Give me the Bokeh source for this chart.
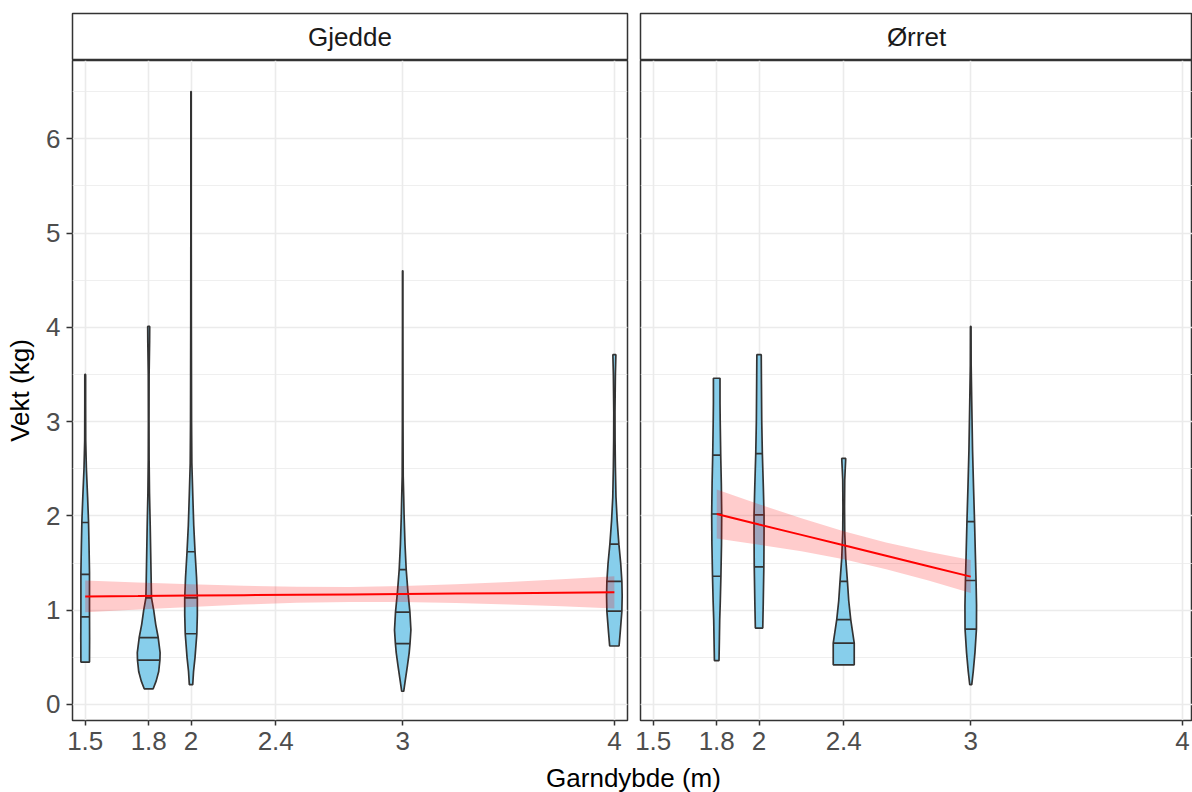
import numpy as np
from bokeh.plotting import figure
from bokeh.layouts import column, row
from bokeh.models import Range1d, FixedTicker, SingleIntervalTicker, CustomJSTickFormatter
from bokeh.core.properties import value
from bokeh.embed import file_html
from bokeh.resources import INLINE

# ---------------- data ----------------
species = ["Gjedde", "Ørret"]

x_ticks = [1.5, 1.8, 2.0, 2.4, 3.0, 4.0]
x_tick_labels = ["1.5", "1.8", "2", "2.4", "3", "4"]

# Gjedde violins: depth, weight grid (kg), density (relative width)
gj_depths = [1.5, 1.8, 2.0, 3.0, 4.0]
gj15_w = [0.45, 0.7, 1.0, 1.4, 1.7, 1.95, 2.2, 2.5, 2.8, 3.2, 3.5]
gj15_d = [4.3, 4.4, 4.3, 4.3, 3.8, 3.3, 2.4, 1.2, 0.5, 0.4, 0.4]
gj18_w = [0.166, 0.25, 0.35, 0.47, 0.55, 0.71, 0.85, 1.0, 1.13, 1.3, 1.6, 1.9, 2.24, 2.6, 3.0, 3.5, 3.85, 4.01]
gj18_d = [4.5, 7.5, 10.0, 11.2, 11.4, 9.5, 7.0, 5.0, 2.8, 2.5, 2.0, 1.5, 0.8, 0.4, 0.3, 0.4, 0.9, 1.0]
gj20_w = [0.21, 0.35, 0.5, 0.75, 0.95, 1.13, 1.35, 1.62, 1.9, 2.2, 2.56, 3.0, 3.5, 4.0, 5.0, 6.5]
gj20_d = [1.7, 2.5, 4.0, 5.8, 6.3, 6.3, 5.5, 4.0, 2.7, 1.8, 0.8, 0.5, 0.4, 0.3, 0.2, 0.2]
gj30_w = [0.14, 0.25, 0.41, 0.55, 0.645, 0.79, 0.98, 1.2, 1.43, 1.7, 2.0, 2.2, 2.42, 3.0, 4.0, 4.6]
gj30_d = [1.0, 2.5, 4.7, 6.5, 7.3, 8.2, 7.2, 5.2, 3.5, 2.3, 1.4, 1.0, 0.5, 0.3, 0.2, 0.2]
gj40_w = [0.62, 0.76, 0.99, 1.15, 1.305, 1.5, 1.70, 1.95, 2.2, 2.52, 2.8, 3.1, 3.5, 3.71]
gj40_d = [4.7, 5.8, 7.5, 7.8, 7.5, 6.3, 4.5, 2.8, 1.6, 1.0, 0.7, 0.6, 1.0, 1.5]
gj_q25 = [0.93, 0.47, 0.75, 0.645, 0.99]
gj_q50 = [1.38, 0.71, 1.13, 0.98, 1.305]
gj_q75 = [1.93, 1.13, 1.62, 1.43, 1.70]

# Ørret violins
or_depths = [1.8, 2.0, 2.4, 3.0]
or18_w = [0.466, 0.7, 0.9, 1.1, 1.36, 1.7, 2.02, 2.35, 2.645, 3.0, 3.2, 3.46]
or18_d = [2.3, 2.7, 3.0, 3.6, 4.2, 4.8, 5.0, 4.6, 4.0, 3.5, 3.3, 3.3]
or20_w = [0.81, 1.08, 1.46, 1.8, 2.01, 2.3, 2.66, 3.0, 3.4, 3.71]
or20_d = [3.7, 4.2, 4.8, 5.0, 5.0, 4.3, 3.3, 2.7, 2.4, 2.2]
or24_w = [0.42, 0.65, 0.9, 1.1, 1.305, 1.55, 1.82, 2.1, 2.38, 2.5, 2.61]
or24_d = [10.5, 10.5, 7.0, 5.0, 3.7, 2.0, 1.0, 0.8, 1.0, 1.5, 2.0]
or30_w = [0.21, 0.35, 0.55, 0.8, 1.05, 1.315, 1.6, 1.94, 2.3, 2.7, 3.2, 3.6, 4.01]
or30_d = [1.0, 2.5, 4.2, 5.7, 5.8, 5.3, 4.6, 3.8, 2.8, 1.8, 1.0, 0.4, 0.3]
or_q25 = [1.36, 1.46, 0.65, 0.80]
or_q50 = [2.02, 2.01, 0.90, 1.315]
or_q75 = [2.645, 2.66, 1.305, 1.94]

# linear fits with confidence band
gj_fit_x = [1.5, 1.75, 2.0, 2.25, 2.5, 2.75, 3.0, 3.25, 3.5, 3.75, 4.0]
gj_fit_y = [1.146, 1.150, 1.155, 1.159, 1.163, 1.167, 1.172, 1.176, 1.180, 1.185, 1.189]
gj_fit_lo = [0.977, 1.006, 1.035, 1.059, 1.078, 1.087, 1.087, 1.076, 1.060, 1.041, 1.017]
gj_fit_hi = [1.315, 1.294, 1.275, 1.259, 1.248, 1.247, 1.257, 1.276, 1.300, 1.329, 1.361]

or_fit_x = [1.8, 2.0, 2.2, 2.4, 2.6, 2.8, 3.0]
or_fit_y = [2.020, 1.909, 1.799, 1.688, 1.577, 1.467, 1.356]
or_fit_lo = [1.760, 1.694, 1.624, 1.540, 1.435, 1.315, 1.181]
or_fit_hi = [2.280, 2.124, 1.974, 1.836, 1.719, 1.619, 1.531]

# ---------------- styling ----------------
FONT = "Liberation Sans"
VIOLIN_SCALE = 1 / 211.7
OUTLINE = "#333333"
GRID = "#EBEBEB"

gj_violins = [(gj15_w, gj15_d), (gj18_w, gj18_d), (gj20_w, gj20_d), (gj30_w, gj30_d), (gj40_w, gj40_d)]
or_violins = [(or18_w, or18_d), (or20_w, or20_d), (or24_w, or24_d), (or30_w, or30_d)]

PANEL_H = 700
PANEL_BOTTOM = 40


def tick_formatter():
    return CustomJSTickFormatter(
        args=dict(tvals=x_ticks, tlabels=x_tick_labels),
        code="""
        for (let i = 0; i < tvals.length; i++) {
            if (Math.abs(tvals[i] - tick) < 1e-9) { return tlabels[i]; }
        }
        return '';
        """,
    )


def make_panel(width, ml, mr, x_end, depths, violins, q25, q50, q75,
               fx, fy, flo, fhi, show_y):
    p = figure(width=width, height=PANEL_H,
               x_range=Range1d(1.44, x_end), y_range=Range1d(-0.17, 6.83),
               output_backend="svg", toolbar_location=None,
               min_border_left=ml, min_border_right=mr,
               min_border_top=0, min_border_bottom=PANEL_BOTTOM,
               y_axis_location="left" if show_y else None)
    p.outline_line_color = OUTLINE
    p.outline_line_width = 1.5
    p.background_fill_color = "white"
    p.border_fill_color = "white"

    # grids
    p.xgrid.ticker = FixedTicker(ticks=x_ticks)
    p.xgrid.grid_line_color = GRID
    p.xgrid.grid_line_width = 1.6
    yt = SingleIntervalTicker(interval=1, num_minor_ticks=2)
    p.ygrid.ticker = yt
    p.ygrid.grid_line_color = GRID
    p.ygrid.grid_line_width = 1.6
    p.ygrid.minor_grid_line_color = GRID
    p.ygrid.minor_grid_line_width = 0.8

    # x axis
    xa = p.xaxis[0]
    xa.ticker = FixedTicker(ticks=x_ticks)
    xa.formatter = tick_formatter()
    xa.axis_line_color = None
    xa.major_tick_line_color = OUTLINE
    xa.major_tick_line_width = 1.5
    xa.major_tick_in = 0
    xa.major_tick_out = 5
    xa.minor_tick_line_color = None
    xa.major_label_standoff = 6
    xa.major_label_text_font = FONT
    xa.major_label_text_font_size = "26px"
    xa.major_label_text_color = "#4D4D4D"

    if show_y:
        ya = p.yaxis[0]
        ya.ticker = yt
        ya.axis_line_color = None
        ya.major_tick_line_color = OUTLINE
        ya.major_tick_line_width = 1.5
        ya.major_tick_in = 0
        ya.major_tick_out = 6
        ya.minor_tick_line_color = None
        ya.major_label_standoff = 6
        ya.major_label_text_font = FONT
        ya.major_label_text_font_size = "26px"
        ya.major_label_text_color = "#4D4D4D"
        ya.axis_label = "Vekt (kg)"
        ya.axis_label_text_font = FONT
        ya.axis_label_text_font_size = "26px"
        ya.axis_label_text_font_style = "normal"
        ya.axis_label_text_color = "black"
        ya.axis_label_standoff = 8

    # violins
    xs, ys = [], []
    sx0, sx1, sy = [], [], []
    for c, (w, d), a, b, e in zip(depths, violins, q25, q50, q75):
        w = np.asarray(w, float)
        d = np.asarray(d, float) * VIOLIN_SCALE
        xs.append(list(np.concatenate([c + d, (c - d)[::-1]])))
        ys.append(list(np.concatenate([w, w[::-1]])))
        for q in (a, b, e):
            hw = float(np.interp(q, w, d))
            sx0.append(c - hw)
            sx1.append(c + hw)
            sy.append(q)
    p.patches(xs, ys, fill_color="#87CEEB", line_color=OUTLINE, line_width=1.7)
    p.segment(x0=sx0, y0=sy, x1=sx1, y1=sy, line_color=OUTLINE, line_width=1.7)

    # fit
    p.varea(x=fx, y1=flo, y2=fhi, fill_color="red", fill_alpha=0.2)
    p.line(fx, fy, line_color="red", line_width=2)
    return p


def make_strip(width, ml, mr, label):
    s = figure(width=width, height=60, x_range=Range1d(0, 1), y_range=Range1d(0, 1),
               output_backend="svg", toolbar_location=None,
               x_axis_location=None, y_axis_location=None,
               min_border_left=ml, min_border_right=mr,
               min_border_top=13, min_border_bottom=0)
    s.xgrid.visible = False
    s.ygrid.visible = False
    s.outline_line_color = OUTLINE
    s.outline_line_width = 1.5
    s.background_fill_color = "white"
    s.border_fill_color = "white"
    s.text(x=[0.5], y=[0.5], text=[label], text_align="center", text_baseline="middle",
           text_font=value(FONT), text_font_size="26px", text_color="#1A1A1A")
    return s


LW, LML, LMR = 633, 72, 6
RW, RML, RMR = 559, 7, 0
TITLE_H = 792 - 60 - PANEL_H

s1 = make_strip(LW, LML, LMR, species[0])
s2 = make_strip(RW, RML, RMR, species[1])

p1 = make_panel(LW, LML, LMR, 4.062, gj_depths, gj_violins, gj_q25, gj_q50, gj_q75,
                gj_fit_x, gj_fit_y, gj_fit_lo, gj_fit_hi, True)
p2 = make_panel(RW, RML, RMR, 4.0475, or_depths, or_violins, or_q25, or_q50, or_q75,
                or_fit_x, or_fit_y, or_fit_lo, or_fit_hi, False)

t = figure(width=1192, height=TITLE_H, x_range=Range1d(0, 1192), y_range=Range1d(0, TITLE_H),
           output_backend="svg", toolbar_location=None,
           x_axis_location=None, y_axis_location=None, min_border=0)
t.xgrid.visible = False
t.ygrid.visible = False
t.outline_line_color = None
t.background_fill_color = "white"
t.border_fill_color = "white"
t.text(x=[633], y=[TITLE_H - 17], text=["Garndybde (m)"], text_align="center", text_baseline="middle",
       text_font=value(FONT), text_font_size="26px", text_color="black")

layout = column(row(s1, s2), row(p1, p2), t)
open("out.html", "w").write(file_html(layout, INLINE))
